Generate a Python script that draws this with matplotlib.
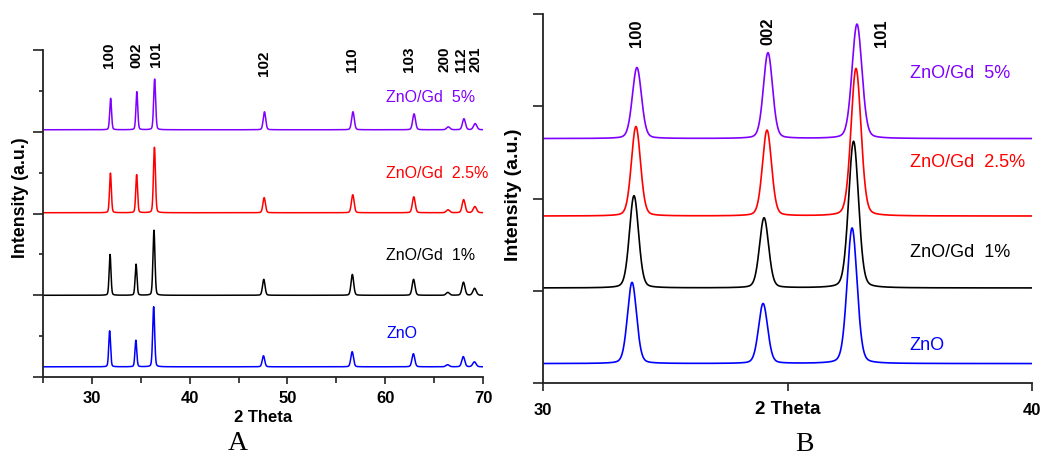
import numpy as np
import matplotlib.pyplot as plt
from matplotlib.ticker import MultipleLocator

plt.rcParams['font.family'] = ['Liberation Sans', 'DejaVu Sans']

# peak list (2 theta, relative height, width)
hkl = ["100", "002", "101", "102", "110", "103", "200", "112", "201"]
series_names = ["ZnO/Gd  5%", "ZnO/Gd  2.5%", "ZnO/Gd  1%", "ZnO"]
series_colors = ["#8000ff", "#ff0000", "#000000", "#0000ff"]

pos_gd5 = [31.92, 34.60, 36.42, 47.65, 56.70, 62.95, 66.45, 68.05, 69.20]
pos_gd25 = [31.90, 34.58, 36.40, 47.62, 56.68, 62.92, 66.42, 68.02, 69.17]
pos_gd1 = [31.86, 34.52, 36.35, 47.58, 56.64, 62.90, 66.40, 68.00, 69.14]
pos_zno = [31.82, 34.50, 36.32, 47.55, 56.62, 62.88, 66.38, 67.98, 69.12]

height_gd5 = [0.77, 0.93, 1.24, 0.44, 0.44, 0.39, 0.07, 0.27, 0.15]
height_gd25 = [0.97, 0.93, 1.60, 0.37, 0.44, 0.39, 0.07, 0.32, 0.15]
height_gd1 = [1.00, 0.76, 1.59, 0.39, 0.51, 0.39, 0.07, 0.32, 0.17]
height_zno = [0.88, 0.65, 1.47, 0.27, 0.37, 0.32, 0.05, 0.25, 0.12]

fwhm = [0.22, 0.22, 0.24, 0.30, 0.32, 0.34, 0.40, 0.36, 0.40]

# vertical stacking offsets
offset_a = [6.05, 4.02, 2.0, 0.25]
offset_b = [2.65, 1.81, 1.03, 0.21]

# label placement
hkl_x_a = [31.8, 34.6, 36.6, 47.6, 56.6, 62.4, 66.1, 67.75, 69.2]
hkl_y_a = [7.58, 7.58, 7.60, 7.39, 7.49, 7.49, 7.49, 7.49, 7.49]
hkl_x_b = [31.92, 34.6, 36.93]
hkl_y_b = [3.655, 3.68, 3.655]
name_y_a = [6.87, 5.01, 3.0, 1.08]
name_y_b = [3.37, 2.40, 1.42, 0.42]

positions = [pos_gd5, pos_gd25, pos_gd1, pos_zno]
heights = [height_gd5, height_gd25, height_gd1, height_zno]


def pattern(x, pos, hgt, eta=0.2):
    y = np.zeros_like(x)
    for p, h, w in zip(pos, hgt, fwhm):
        d = (x - p) / (w / 2)
        y += h * (eta / (1 + d ** 2) + (1 - eta) * np.exp(-np.log(2) * d ** 2))
    return y


def style_axes(ax):
    ax.spines['top'].set_visible(False)
    ax.spines['right'].set_visible(False)
    for s in ['left', 'bottom']:
        ax.spines[s].set_linewidth(1.3)
        ax.spines[s].set_color('#222222')
    ax.tick_params(which='both', direction='out', width=1.2, color='#222222')
    for lab in ax.get_xticklabels():
        lab.set_fontweight('bold')


fig = plt.figure(figsize=(10.53, 4.56), dpi=100)

# ---- panel A
ax_a = fig.add_axes([0.0408, 0.171, 0.4179, 0.717])
x_a = np.linspace(25, 70, 6000)
for pos, hgt, off, col in zip(positions, heights, offset_a, series_colors):
    ax_a.plot(x_a, pattern(x_a, pos, hgt) + off, color=col, lw=1.1)
ax_a.set_xlim(25, 70)
ax_a.set_ylim(0, 8)
ax_a.set_xticks([30, 40, 50, 60, 70])
ax_a.xaxis.set_minor_locator(MultipleLocator(5))
ax_a.set_yticks([0, 2, 4, 6, 8])
ax_a.yaxis.set_minor_locator(MultipleLocator(1))
ax_a.set_yticklabels([])
ax_a.tick_params(axis='x', which='major', length=5, labelsize=12, pad=4)
ax_a.tick_params(axis='x', which='minor', length=4)
ax_a.tick_params(axis='y', which='major', length=7)
ax_a.tick_params(axis='y', which='minor', length=3)
style_axes(ax_a)
ax_a.text(0.5, -0.12, "2 Theta", transform=ax_a.transAxes, ha='center', va='center',
          fontsize=12, fontweight='bold')
ax_a.text(-0.052, 0.553, "Intensity (a.u.)", transform=ax_a.transAxes, rotation=90,
          ha='center', va='center', fontsize=12.8, fontweight='bold')
for lab, xx, yy in zip(hkl, hkl_x_a, hkl_y_a):
    ax_a.text(xx, yy, lab, rotation=90, ha='center', va='bottom', fontsize=11,
              fontweight='bold', clip_on=False)
for name, yy, col in zip(series_names, name_y_a, series_colors):
    ax_a.text(60.1, yy, name, color=col, ha='left', va='center', fontsize=11.5)

# ---- panel B
ax_b = fig.add_axes([0.5157, 0.158, 0.4644, 0.809])
x_b = np.linspace(30, 40, 4000)
for pos, hgt, off, col in zip(positions, heights, offset_b, series_colors):
    ax_b.plot(x_b, pattern(x_b, pos, hgt) + off, color=col, lw=1.2)
ax_b.set_xlim(30, 40)
ax_b.set_ylim(0, 4)
ax_b.set_xticks([30, 35, 40])
ax_b.set_xticklabels(["30", "", "40"])
ax_b.set_yticks([0, 1, 2, 3, 4])
ax_b.set_yticklabels([])
ax_b.tick_params(axis='x', length=6, labelsize=12, pad=8)
ax_b.tick_params(axis='y', length=7)
style_axes(ax_b)
ax_b.text(0.5, -0.07, "2 Theta", transform=ax_b.transAxes, ha='center', va='center',
          fontsize=13.5, fontweight='bold')
ax_b.text(-0.061, 0.512, "Intensity (a.u.)", transform=ax_b.transAxes, rotation=90,
          ha='center', va='center', fontsize=14, fontweight='bold')
for lab, xx, yy in zip(hkl[:3], hkl_x_b, hkl_y_b):
    ax_b.text(xx, yy, lab, rotation=90, ha='center', va='bottom', fontsize=12,
              fontweight='bold', clip_on=False)
for name, yy, col in zip(series_names, name_y_b, series_colors):
    ax_b.text(37.5, yy, name, color=col, ha='left', va='center', fontsize=13)

fig.text(0.226, 0.028, "A", family='Liberation Serif', fontsize=20, ha='center', va='center')
fig.text(0.764, 0.026, "B", family='Liberation Serif', fontsize=20, ha='center', va='center')

fig.savefig("out.png", dpi=100)
